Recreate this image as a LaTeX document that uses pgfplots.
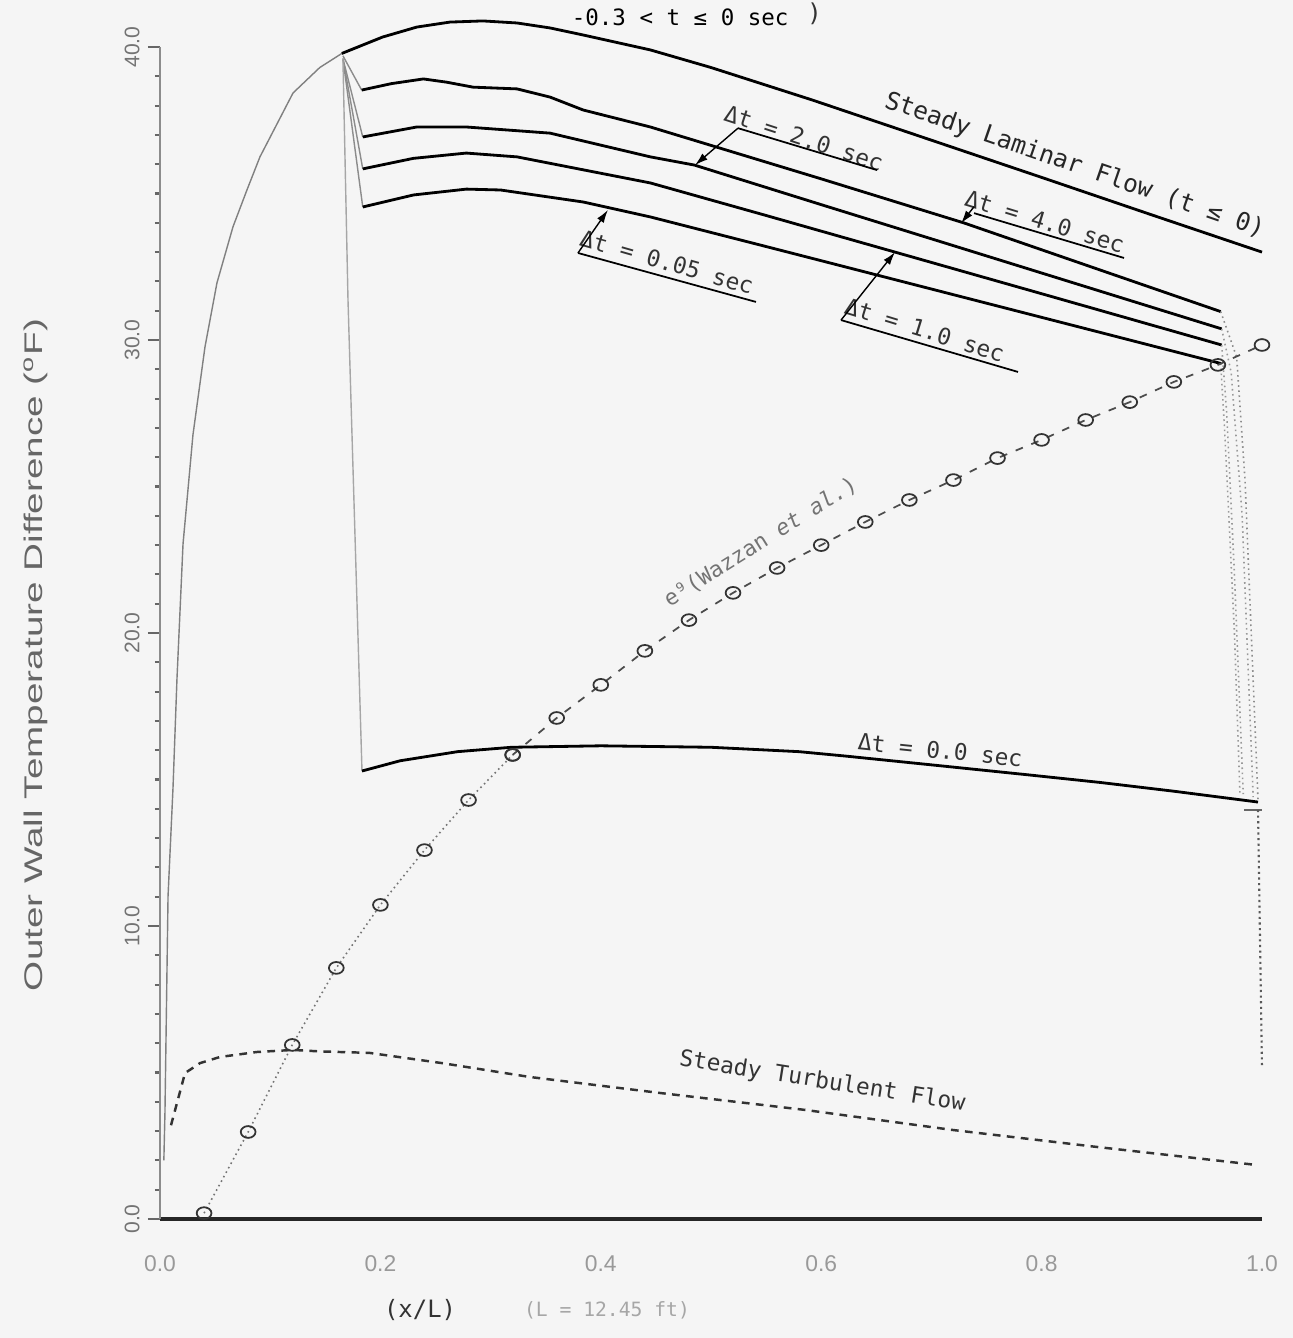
\documentclass[border=0pt]{standalone}
\usepackage{pgfplots}
\pgfplotsset{compat=1.18}
\usepackage{fontspec}
\setmainfont{Liberation Sans}
\newfontfamily\plotfont{DejaVu Sans Mono}
\usetikzlibrary{arrows.meta}

\begin{document}
\begin{tikzpicture}
\fill[black!4] (-1.60,-1.19) rectangle (11.33,12.19);
\begin{axis}[
  scale only axis, width=11.02cm, height=11.72cm,
  xmin=0, xmax=1, ymin=0, ymax=40,
  axis x line=bottom, axis y line=left,
  x axis line style={-, line width=0.9pt, black!85},
  y axis line style={-, line width=0.4pt, black!45},
  clip=false,
  xtick={0,0.2,0.4,0.6,0.8,1.0},
  xticklabels={0.0,0.2,0.4,0.6,0.8,1.0},
  ytick={0,10,20,30,40},
  yticklabels={0.0,10.0,20.0,30.0,40.0},
  minor y tick num=9,
  tick align=outside,
  major tick length=0.12cm, minor tick length=0.05cm,
  major x tick style=transparent,
  major y tick style={black!60, line width=0.5pt},
  minor y tick style={black!60, line width=0.6pt},
  xticklabel style={font=\fontsize{6.5}{7}\selectfont, text=black!40, anchor=center, yshift=-0.33cm},
  yticklabel style={font=\fontsize{6}{7}\selectfont, text=black!55, rotate=90, anchor=center, yshift=0.16cm},
]
% steady laminar: rising part (faint)
\addplot[black!50, line width=0.4pt] coordinates {
(0.0035,2.0) (0.0045,3.62) (0.0073,11.02) (0.0118,14.71) (0.0154,18.43) (0.0209,23.04)
(0.0299,26.76) (0.0408,29.76) (0.0517,31.95) (0.0662,33.86) (0.0789,35.12)
(0.0907,36.25) (0.1207,38.43) (0.145,39.3) (0.165,39.78)};
% steady laminar: main part
\addplot[black, line width=0.8pt] coordinates {
(0.165,39.78) (0.202,40.34) (0.233,40.68) (0.263,40.85) (0.293,40.89) (0.324,40.82)
(0.354,40.65) (0.384,40.41) (0.445,39.90) (0.5,39.3) (0.592,38.19) (0.7,36.82)
(0.8,35.55) (0.9,34.27) (1.0,33.0)};
% left drops (faint)
\addplot[black!45, line width=0.4pt] coordinates {(0.166,39.7) (0.183,38.53)};
\addplot[black!45, line width=0.4pt] coordinates {(0.166,39.6) (0.184,36.93)};
\addplot[black!45, line width=0.4pt] coordinates {(0.166,39.6) (0.184,35.84)};
\addplot[black!45, line width=0.4pt] coordinates {(0.166,39.6) (0.184,34.54)};
\addplot[black!35, line width=0.4pt] coordinates {(0.166,39.6) (0.1706,31.37) (0.1833,15.29)};
% Delta t = 4.0
\addplot[black, line width=0.8pt] coordinates {
(0.183,38.53) (0.21,38.75) (0.239,38.91) (0.26,38.8) (0.284,38.63) (0.324,38.57)
(0.354,38.29) (0.384,37.85) (0.445,37.27) (0.6,35.5) (0.73,33.99) (0.85,32.43) (0.9625,30.97)};
% Delta t = 2.0
\addplot[black, line width=0.8pt] coordinates {
(0.184,36.93) (0.233,37.27) (0.278,37.27) (0.354,37.06) (0.445,36.25) (0.485,35.97)
(0.6,34.62) (0.75,32.87) (0.9634,30.38)};
% Delta t = 1.0
\addplot[black, line width=0.8pt] coordinates {
(0.184,35.84) (0.23,36.2) (0.278,36.38) (0.324,36.25) (0.445,35.36) (0.55,34.25)
(0.667,33.0) (0.8,31.58) (0.9634,29.83)};
% Delta t = 0.05
\addplot[black, line width=0.8pt] coordinates {
(0.184,34.54) (0.23,34.95) (0.278,35.15) (0.309,35.12) (0.384,34.71) (0.445,34.20)
(0.55,33.19) (0.7,31.74) (0.85,30.29) (0.9625,29.2)};
% Delta t = 0.0
\addplot[black, line width=0.8pt] coordinates {
(0.1833,15.29) (0.218,15.64) (0.27,15.95) (0.319,16.1) (0.40,16.15) (0.50,16.1)
(0.58,15.95) (0.622,15.8) (0.70,15.5) (0.785,15.17) (0.853,14.9) (0.92,14.6) (0.9964,14.23)};
% right drops (faint)
\addplot[black!45, line width=0.45pt, densely dotted] coordinates {(0.9625,30.97) (0.977,29.42) (0.9846,25.22) (0.9964,14.3)};
\addplot[black!40, line width=0.45pt, densely dotted] coordinates {(0.9634,30.38) (0.972,28.9) (0.982,24.0) (0.992,14.4)};
\addplot[black!40, line width=0.45pt, densely dotted] coordinates {(0.9634,29.83) (0.968,27.5) (0.975,22.0) (0.983,14.5)};
\addplot[black!40, line width=0.45pt, densely dotted] coordinates {(0.9625,29.2) (0.966,27.0) (0.975,20.0) (0.98,14.5)};
\addplot[black!60, line width=0.5pt] coordinates {(0.984,13.96) (1.0,13.96)};
\addplot[black!65, line width=0.6pt, densely dotted] coordinates {(0.9964,13.96) (1.0,5.19)};
% steady turbulent flow
\addplot[black!80, line width=0.7pt, dash pattern=on 2.2pt off 1.8pt] coordinates {
(0.01,3.2) (0.015,3.9) (0.0227,4.98) (0.0363,5.32) (0.0544,5.53) (0.088,5.70)
(0.1207,5.77) (0.145,5.72) (0.19,5.67) (0.256,5.32) (0.335,4.85) (0.454,4.30)
(0.586,3.72) (0.719,3.04) (0.85,2.46) (0.996,1.84)};
% e^9 (Wazzan et al.)
\addplot[black!55, line width=0.45pt, densely dotted, mark=o, mark size=2.1pt,
  mark options={solid, black!80, line width=0.5pt, yscale=0.8}] coordinates {
(0.04,0.20) (0.08,2.97) (0.12,5.94) (0.16,8.57) (0.20,10.72) (0.24,12.59)
(0.28,14.30) (0.32,15.84)};
\addplot[black!70, line width=0.5pt, dash pattern=on 2.2pt off 2.6pt, mark=o, mark size=2.1pt,
  mark options={solid, black!80, line width=0.5pt, yscale=0.8}] coordinates {
(0.32,15.84) (0.36,17.10) (0.40,18.23) (0.44,19.39) (0.48,20.44) (0.52,21.37)
(0.56,22.22) (0.60,23.00) (0.64,23.79) (0.68,24.54) (0.72,25.22) (0.76,25.97)
(0.80,26.59) (0.84,27.27) (0.88,27.88) (0.92,28.57) (0.96,29.15) (1.00,29.83)};

% annotations
\node[font=\plotfont\fontsize{6.4}{7}\selectfont] at (axis cs:0.472,41.02) {-0.3 < t ≤ 0  sec};
\node[font=\plotfont\fontsize{7}{8}\selectfont, text=black!80] at (axis cs:0.594,41.15) {)};
\node[rotate=-19, font=\plotfont\fontsize{7}{8}\selectfont, text=black!85] at (axis cs:0.830,35.95) {Steady Laminar Flow (t ≤ 0)};

\node[rotate=-18, font=\plotfont\fontsize{6.5}{7}\selectfont, text=black!80] at (axis cs:0.5844,36.89) {Δt = 2.0 sec};
\draw[black, line width=0.5pt] (axis cs:0.5245,37.23) -- (axis cs:0.6506,35.80);
\draw[black, line width=0.4pt, -{Latex[length=1.3mm,width=0.8mm]}] (axis cs:0.5245,37.23) -- (axis cs:0.4855,35.97);

\node[rotate=-17, font=\plotfont\fontsize{6.5}{7}\selectfont, text=black!80] at (axis cs:0.803,34.03) {Δt = 4.0 sec};
\draw[black, line width=0.5pt] (axis cs:0.7387,34.33) -- (axis cs:0.8748,32.80);
\draw[black, line width=0.4pt, -{Latex[length=1.3mm,width=0.8mm]}] (axis cs:0.7387,34.55) -- (axis cs:0.7269,33.98);

\node[rotate=-17, font=\plotfont\fontsize{6.5}{7}\selectfont, text=black!80] at (axis cs:0.694,30.34) {Δt = 1.0 sec};
\draw[black, line width=0.5pt] (axis cs:0.618,30.68) -- (axis cs:0.7786,28.91);
\draw[black, line width=0.4pt, -{Latex[length=1.3mm,width=0.8mm]}] (axis cs:0.618,30.68) -- (axis cs:0.667,33.0);

\node[rotate=-16, font=\plotfont\fontsize{6.5}{7}\selectfont, text=black!80] at (axis cs:0.46,32.66) {Δt = 0.05 sec};
\draw[black, line width=0.5pt] (axis cs:0.3793,32.97) -- (axis cs:0.5408,31.30);
\draw[black, line width=0.4pt, -{Latex[length=1.3mm,width=0.8mm]}] (axis cs:0.3793,32.97) -- (axis cs:0.4065,34.44);

\node[rotate=-6, font=\plotfont\fontsize{6.5}{7}\selectfont, text=black!80] at (axis cs:0.708,16.0) {Δt = 0.0 sec};
\node[rotate=32, font=\plotfont\fontsize{6.2}{7}\selectfont, text=black!55] at (axis cs:0.545,23.1) {e⁹(Wazzan \textit{et al.})};
\node[rotate=-9, font=\plotfont\fontsize{6.5}{7}\selectfont, text=black!80] at (axis cs:0.601,4.68) {Steady Turbulent Flow};

% axis labels
\node[rotate=90, font=\fontsize{11}{12}\selectfont, text=black!60] at (axis cs:-0.1125,19.25)
  {\scalebox{1}[0.66]{Outer Wall Temperature Difference (\textsuperscript{o}F)}};
\node[font=\plotfont\fontsize{6.8}{8}\selectfont, text=black!80] at (axis cs:0.236,-3.11) {(x/L)};
\node[font=\plotfont\fontsize{5.6}{7}\selectfont, text=black!35] at (axis cs:0.4056,-3.11) {(L = 12.45 ft)};
\end{axis}
\pgfresetboundingbox
\path (-1.60,-1.19) rectangle (11.33,12.19);
\end{tikzpicture}
\end{document}
